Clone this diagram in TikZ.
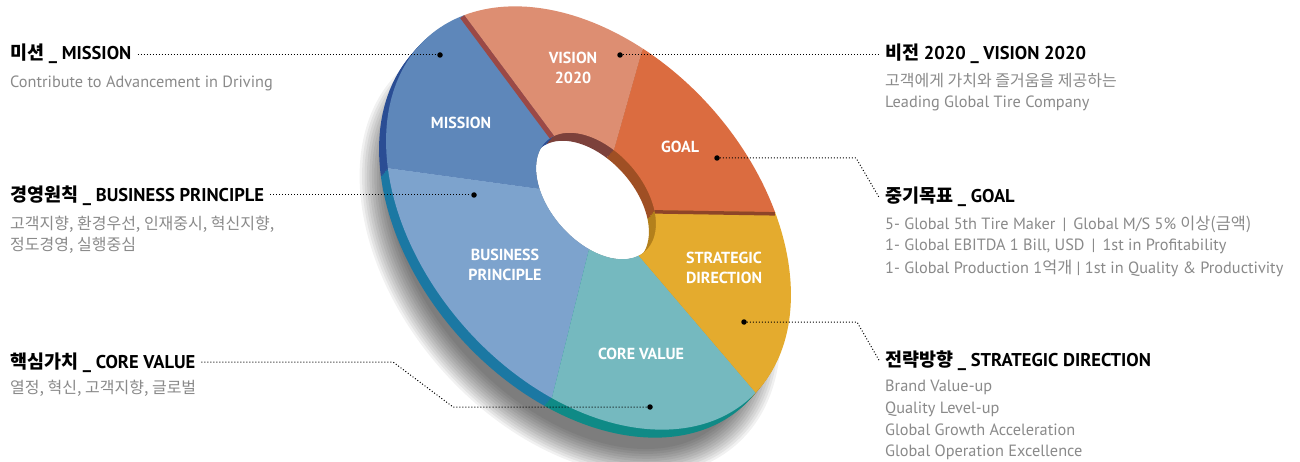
\documentclass[tikz,border=0pt]{standalone}
\usepackage{fontspec}
\setmainfont{PT Sans}
\newfontfamily\kr{Noto Sans CJK KR}
\definecolor{cM}{HTML}{5E87BA}
\definecolor{cMs}{HTML}{2A4D94}
\definecolor{cB}{HTML}{7DA3CD}
\definecolor{cBs}{HTML}{1B78A3}
\definecolor{cC}{HTML}{75B9BF}
\definecolor{cCs}{HTML}{0F8A86}
\definecolor{cS}{HTML}{E4AB2E}
\definecolor{cSs}{HTML}{B3801C}
\definecolor{cG}{HTML}{DB6C40}
\definecolor{cGs}{HTML}{9F4F24}
\definecolor{cV}{HTML}{DD8E72}
\definecolor{cVs}{HTML}{7C413B}
\definecolor{cMV}{HTML}{9B4946}
\definecolor{cGS}{HTML}{8E4428}
\definecolor{bodygray}{HTML}{8A8A8A}
% ring sector: outer start/end angle, inner start/end angle (local frame)
\newcommand\rs[4]{(#1:242 and 165) arc[start angle=#1,end angle=#2,x radius=242,y radius=165] -- ({-11.5+74*cos(#4)},{20.2+46*sin(#4)}) arc[start angle=#4,end angle=#3,x radius=74,y radius=46] -- cycle}
\newcommand\allsectors[6]{%
  \fill[#1] \rs{165.5}{225.2}{169.5}{234.5};
  \fill[#2] \rs{225.2}{297.2}{234.5}{298.4};
  \fill[#3] \rs{297.2}{363.3}{298.4}{350.6};
  \fill[#4] \rs{3.3}{60.5}{-9.4}{48.3};
  \fill[#5] \rs{60.5}{112.1}{48.3}{107.7};
  \fill[#6] \rs{112.1}{165.5}{107.7}{169.5};}
\begin{document}
\begin{tikzpicture}[x=1pt,y=1pt,
  lead/.style={line width=1pt, dash pattern=on 1pt off 2pt},
  dotn/.style={circle,fill=black,inner sep=0pt,minimum size=5.5pt},
  head/.style={inner sep=0pt, anchor=base west, text=black, font=\fontsize{18.5}{22}\selectfont\bfseries},
  body/.style={inner sep=0pt, anchor=base west, text=bodygray, font=\fontsize{16.3}{19}\selectfont},
  kbody/.style={body, font=\fontsize{16}{19}\selectfont\kr},
  lab/.style={text=white, font=\fontsize{16}{20}\selectfont\bfseries, align=center, inner sep=0pt}]
\useasboundingbox (0,0) rectangle (1300,-462);
\fill[white] (0,0) rectangle (1300,-462);
% soft shadow
\begin{scope}[shift={(570,-256)},rotate=-48.5]
  \foreach \k in {0,...,11}
    \fill[black,opacity=0.055] (0,0) ellipse [x radius={224+2.5*\k}, y radius={144+2.5*\k}];
\end{scope}
% hole
\begin{scope}[shift={(588.5,-218)},rotate=-48.5]
  \fill[white] (-11.5,20.2) ellipse [x radius=74, y radius=46];
\end{scope}
% extruded sides (back copies)
\foreach \s in {1,0.8,0.6,0.4,0.2} {
  \begin{scope}[shift={(-7*\s,-8*\s)}]
  \begin{scope}[shift={(588.5,-218)},rotate=-48.5]
    \allsectors{cMs}{cBs}{cCs}{cSs}{cGs}{cVs}
  \end{scope}
  \end{scope}
}
% front faces
\begin{scope}[shift={(588.5,-218)},rotate=-48.5]
  \allsectors{cM}{cB}{cC}{cS}{cG}{cV}
  \begin{scope}
    \clip \rs{165.5}{225.2}{169.5}{234.5};
    \draw[cMV, line width=10pt] (165.5:242 and 165) -- ({-11.5+74*cos(169.5)},{20.2+46*sin(169.5)});
  \end{scope}
  \begin{scope}
    \clip \rs{3.3}{60.5}{-9.4}{48.3};
    \draw[cGS, line width=7pt] (60.5:242 and 165) -- ({-11.5+74*cos(48.3)},{20.2+46*sin(48.3)});
  \end{scope}
\end{scope}
% labels on the ring
\node[lab] (lv) at (573,-68) {VISION\\2020};
\node[lab] (lm) at (461,-123) {MISSION};
\node[lab] (lg) at (680,-147) {GOAL};
\node[lab] (ls) at (724,-268) {STRATEGIC\\DIRECTION};
\node[lab] (lb) at (505,-265) {BUSINESS\\PRINCIPLE};
\node[lab] (lc) at (641,-354) {CORE VALUE};
% dots
\node[dotn] (md) at (440,-55) {};
\node[dotn] (bd) at (474,-195) {};
\node[dotn] (cd) at (650,-407) {};
\node[dotn] (vd) at (620,-55) {};
\node[dotn] (gd) at (717,-158) {};
\node[dotn] (sd) at (744,-322) {};
% headings
\node[head] (mh) at (10,-60) {{\kr 미션} \_ MISSION};
\node[head] (bh) at (10,-202) {{\kr 경영원칙} \_ BUSINESS PRINCIPLE};
\node[head] (ch) at (10,-368) {{\kr 핵심가치} \_ CORE VALUE};
\node[head] (vh) at (885,-60) {{\kr 비전} 2020 \_ VISION 2020};
\node[head] (gh) at (885,-203) {{\kr 중기목표} \_ GOAL};
\node[head] (sh) at (885,-366) {{\kr 전략방향} \_ STRATEGIC DIRECTION};
% body texts
\node[body] (m1) at (10,-88) {Contribute to Advancement in Driving};
\node[kbody] (b1) at (10,-230) {고객지향, 환경우선, 인재중시, 혁신지향,};
\node[kbody] (b2) at (10,-251) {정도경영, 실행중심};
\node[kbody] (c1) at (10,-393) {열정, 혁신, 고객지향, 글로벌};
\node[kbody] (v1) at (885,-87) {고객에게 가치와 즐거움을 제공하는};
\node[body] (v2) at (885,-108) {Leading Global Tire Company};
\node[body] (g1) at (885,-230) {5- Global 5th Tire Maker \,|\, Global M/S 5\% {\kr 이상(금액)}};
\node[body] (g2) at (885,-251) {1- Global EBITDA 1 Bill, USD \,|\, 1st in Profitability};
\node[body] (g3) at (885,-273) {1- Global Production 1{\kr 억개} | 1st in Quality \& Productivity};
\node[body] (s1) at (885,-391) {Brand Value-up};
\node[body] (s2) at (885,-413) {Quality Level-up};
\node[body] (s3) at (885,-435) {Global Growth Acceleration};
\node[body] (s4) at (885,-456) {Global Operation Excellence};
% leader corners
\coordinate (ck1) at (393,-362);
\coordinate (ck2) at (453,-407);
\coordinate (gk) at (856,-158);
\coordinate (sk) at (857,-322);
% leaders
\draw[lead] ([xshift=6pt]mh.east |- md) -- (md);
\draw[lead] ([xshift=6pt]bh.east |- bd) -- (bd);
\draw[lead] ([xshift=6pt]ch.east |- ck1) -- (ck1) -- (ck2) -- (cd);
\draw[lead] (vd) -- ([xshift=-5pt]vh.west |- vd);
\draw[lead] (gd) -- (gk) -- ([xshift=-6pt]gh.west);
\draw[lead] (sd) -- (sk) -- ([xshift=-6pt]sh.west);
\end{tikzpicture}
\end{document}
